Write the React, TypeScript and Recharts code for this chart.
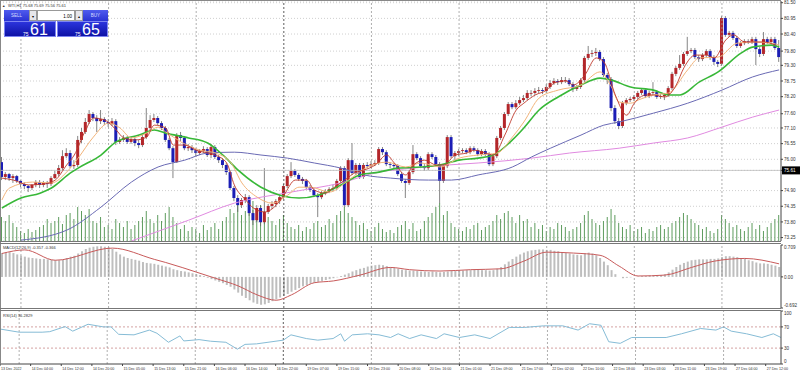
import React from "react";
import { ComposedChart, Bar, Line, XAxis, YAxis, CartesianGrid, ReferenceLine } from "recharts";

const FONT = "'Liberation Sans', Arial, sans-serif";

// time scale: one label every 8 hourly bars
const timeLabels = [
  "13 Dec 2022", "14 Dec 04:00", "14 Dec 12:00", "14 Dec 20:00", "15 Dec 05:00", "15 Dec 13:00",
  "15 Dec 21:00", "16 Dec 06:00", "16 Dec 14:00", "16 Dec 22:00", "19 Dec 07:00", "19 Dec 15:00",
  "19 Dec 23:00", "20 Dec 08:00", "20 Dec 16:00", "21 Dec 01:00", "21 Dec 09:00", "21 Dec 17:00",
  "22 Dec 02:00", "22 Dec 10:00", "22 Dec 18:00", "23 Dec 03:00", "23 Dec 11:00", "23 Dec 19:00",
  "27 Dec 04:00", "27 Dec 12:00",
];
const priceTicks = [81.5, 80.95, 80.4, 79.8, 79.3, 78.75, 78.2, 77.6, 77.1, 76.55, 76.0, 75.61, 74.9, 74.35, 73.8, 73.25];
const bidPrice = 75.61;
const daySeparators = [5, 28, 51, 74, 97, 120, 143, 166, 189];
const weekSeparator = 74;

const opens = [
  75.90,75.38,75.48,75.34,75.41,75.24,75.13,75.06,74.99,75.10, 75.20,75.10,75.17,75.13,75.34,75.48,75.69,76.11,76.22,75.76,
  75.80,76.68,76.96,77.31,77.59,77.45,77.34,77.41,77.31,77.24, 77.34,76.61,76.68,76.75,76.61,76.71,76.57,76.50,76.78,77.10,
  77.38,77.45,77.27,77.10,76.68,76.39,75.90,76.85,76.75,76.39, 76.43,76.32,76.22,76.29,76.36,76.15,76.43,76.08,75.97,75.80,
  75.55,74.99,74.64,74.39,74.57,74.67,74.11,73.86,74.29,73.79, 74.15,74.36,74.43,74.53,74.67,75.06,75.41,75.59,75.45,75.31,
  75.24,75.02,74.92,74.74,74.67,74.81,74.88,74.95,74.99,75.24, 75.69,74.39,75.97,75.52,75.80,75.38,75.80,75.76,75.83,75.87,
  76.36,76.25,75.83,75.80,75.76,75.48,75.24,75.17,75.55,76.18, 76.04,75.76,75.69,76.18,76.08,75.83,75.24,75.76,76.78,76.11,
  76.22,76.29,76.32,76.25,76.39,76.32,76.18,76.29,76.18,75.83, 76.11,76.75,77.10,77.59,77.94,77.83,77.97,78.08,78.15,78.33,
  78.33,78.40,78.43,78.40,78.54,78.68,78.75,78.71,78.78,78.78, 78.64,78.47,78.54,78.78,79.56,79.70,79.73,79.77,79.52,78.96,
  78.82,77.80,77.34,77.17,77.97,78.08,78.12,78.19,78.33,78.43, 78.22,78.33,78.36,78.19,78.22,78.26,78.50,79.00,79.21,79.35,
  79.70,79.80,79.84,79.59,79.52,79.66,79.80,79.59,79.42,79.35, 80.96,80.37,80.44,80.26,79.98,80.08,80.15,80.12,80.22,79.87,
  79.70,80.22,80.12,80.22,79.91,
];
const closes = [
  75.38,75.48,75.34,75.41,75.24,75.13,75.06,74.99,75.10,75.20, 75.10,75.17,75.13,75.34,75.48,75.69,76.11,76.22,75.76,75.80,
  76.68,76.96,77.31,77.59,77.45,77.34,77.41,77.31,77.24,77.34, 76.61,76.68,76.75,76.61,76.71,76.57,76.50,76.78,77.10,77.38,
  77.45,77.27,77.10,76.68,76.39,75.90,76.85,76.75,76.39,76.43, 76.32,76.22,76.29,76.36,76.15,76.43,76.08,75.97,75.80,75.55,
  74.99,74.64,74.39,74.57,74.67,74.11,73.86,74.29,73.79,74.15, 74.36,74.43,74.53,74.67,75.06,75.41,75.59,75.45,75.31,75.24,
  75.02,74.92,74.74,74.67,74.81,74.88,74.95,74.99,75.24,75.69, 74.39,75.97,75.52,75.80,75.38,75.80,75.76,75.83,75.87,76.36,
  76.25,75.83,75.80,75.76,75.48,75.24,75.17,75.55,76.18,76.04, 75.76,75.69,76.18,76.08,75.83,75.24,75.76,76.78,76.11,76.22,
  76.29,76.32,76.25,76.39,76.32,76.18,76.29,76.18,75.83,76.11, 76.75,77.10,77.59,77.94,77.83,77.97,78.08,78.15,78.33,78.33,
  78.40,78.43,78.40,78.54,78.68,78.75,78.71,78.78,78.78,78.64, 78.47,78.54,78.78,79.56,79.70,79.73,79.77,79.52,78.96,78.82,
  77.80,77.34,77.17,77.97,78.08,78.12,78.19,78.33,78.43,78.22, 78.33,78.36,78.19,78.22,78.26,78.50,79.00,79.21,79.35,79.70,
  79.80,79.84,79.59,79.52,79.66,79.80,79.59,79.42,79.35,80.96, 80.37,80.44,80.26,79.98,80.08,80.15,80.12,80.22,79.87,79.70,
  80.22,80.12,80.22,79.91,79.59,
];
const highs = [
  76.08,75.55,75.52,75.48,75.45,75.27,75.20,75.10,75.13,75.27, 75.27,75.24,75.24,75.41,75.59,75.80,76.32,76.39,76.32,75.97,
  76.82,77.10,77.45,77.73,77.66,77.55,77.73,77.48,77.41,77.45, 77.41,76.78,76.85,76.82,76.78,76.78,76.68,76.89,77.80,77.55,
  77.59,77.52,77.34,77.17,76.75,76.46,76.92,76.96,76.82,76.54, 76.50,76.39,76.36,76.46,76.43,76.54,76.50,76.15,76.04,75.87,
  75.62,75.06,74.74,74.64,74.78,74.74,74.22,74.39,74.36,75.69, 74.43,74.53,74.60,74.74,75.13,75.48,75.90,75.66,75.52,75.38,
  75.31,75.10,74.99,74.81,74.88,74.95,75.02,75.10,75.31,75.76, 75.76,76.04,76.57,75.87,75.87,75.87,75.90,75.94,75.97,76.43,
  76.43,76.32,75.90,75.87,75.83,75.55,75.31,75.62,76.50,76.25, 76.11,75.83,76.25,76.25,76.15,75.90,75.83,76.85,76.85,76.29,
  76.36,76.39,76.39,76.46,76.46,76.39,76.36,76.36,76.25,76.18, 76.82,77.17,77.66,78.01,78.01,78.08,78.19,78.26,78.43,78.43,
  78.50,78.54,78.50,78.64,78.78,78.85,78.82,78.89,78.89,78.85, 78.71,78.61,78.85,79.63,79.98,79.84,79.91,79.84,79.59,79.03,
  78.89,77.90,77.45,78.05,78.15,78.19,78.26,78.40,78.50,78.50, 78.40,78.71,78.43,78.29,78.33,78.57,79.07,79.28,79.66,79.77,
  80.30,79.91,79.91,79.66,79.73,79.87,79.87,79.66,79.49,81.03, 81.03,80.51,80.51,80.33,80.15,80.22,80.22,80.30,80.30,79.94,
  80.47,80.30,80.30,80.30,80.19,
];
const lows = [
  75.27,75.27,75.24,75.17,75.17,75.02,74.95,74.85,74.92,75.02, 74.99,75.02,74.99,75.06,75.31,75.41,75.62,76.04,75.69,75.66,
  75.73,76.57,76.89,77.24,77.34,76.96,77.24,77.20,77.13,77.17, 76.50,76.54,76.61,76.54,76.54,76.46,76.39,76.43,76.71,77.03,
  77.31,77.20,77.03,76.61,76.32,75.34,75.87,76.64,76.32,76.29, 76.22,76.11,76.15,76.22,76.08,76.04,76.01,75.87,75.69,75.45,
  74.92,74.53,74.15,74.29,74.46,74.01,73.69,73.79,73.65,73.72, 74.08,74.25,74.32,74.43,74.60,74.99,75.34,75.38,75.24,75.13,
  74.95,74.85,74.67,73.97,74.60,74.74,74.81,74.88,74.92,75.17, 74.32,74.32,75.45,75.45,75.31,75.31,75.69,75.69,75.76,75.80,
  76.15,75.76,75.69,75.66,75.41,75.17,74.64,75.10,75.48,75.97, 75.69,75.59,75.62,76.01,75.76,74.46,75.17,75.69,76.04,75.97,
  76.11,76.22,76.18,76.18,76.25,76.11,76.11,76.11,75.76,75.76, 76.04,76.68,77.03,77.52,77.76,77.76,77.90,78.01,78.08,78.22,
  78.26,78.33,78.29,78.33,78.47,78.61,78.61,78.64,78.68,78.57, 78.36,78.40,78.47,78.71,79.49,79.59,79.63,79.45,78.89,78.64,
  77.69,77.24,77.06,77.10,77.90,78.01,78.05,78.12,78.26,78.15, 78.15,78.26,78.12,78.12,78.08,78.19,78.43,78.92,79.14,79.28,
  79.63,79.73,79.52,79.42,79.45,79.59,79.49,79.31,79.24,79.28, 80.30,80.30,80.19,79.91,79.91,80.01,80.05,80.05,79.31,79.59,
  79.63,80.05,80.05,79.84,79.42,
];
const volumes = [
  2400,2000,2600,1800,1400,1000, 800,1200,900,1100,1400, 1600,2200,1800,2000,2400,1700,2600,
  2800,2200,3400,3000,2600,3200,2000,1800,2400, 1400,1600,1200,2200,1800,1400,2000,1200,
  1600,2000,2400,3000,2200,1800,2600,2000,2800,3400,2400, 1800,1200,1600,1000,1400,1200,800,1600,1100,1400,1800,1200,2000,
  2400,3200,2800,3800,2600,3000,3400,4000,2800,3600,3000,2400, 2000,1600,2200,2600,1800,1400,1200,1600,1000,1400,1200,1800,2000,1400,
  1600,2200,1800,2600,3000,3400,2800,2400,2000,1600,1800, 1200,1000,1400,1800,1200,900,1100,800,1400,1600,2000,1200,1800,1000,1200,
  2000,2400,2800,3400,3800,2600,3000,1800,1400,1200, 1000,1400,1200,1600,1800,1100,1400,1600,2000,2600,2200,2800,3000,2400,1800,
  2600,2000,2200,1400,1800,1200,1600,1000,1400,1200,1800,1600,1400,1000,1200, 1400,1800,2600,3000,2200,1800,1600,2000,2400,3200,2600,1800,
  1400,1200,1600,1000,1200,1400,800,1200,1000,1400,1600,1200,1400, 1800,2000,2400,2800,2600,2200,1800,1600,1200,1400,1000,800,1200,
  2600,2200,1800,1400,1600,1200,1000,1400,1800,1200,1600,1000,1400,1800,2200,2600,
];
const macdHist = [
  0.53,0.54,0.55,0.53,0.50,0.47, 0.45,0.43,0.42,0.41,0.40,0.40,0.39, 0.38,0.37,0.37,0.38,0.42,
  0.45,0.47,0.52,0.57,0.62,0.65, 0.67,0.68,0.68,0.67,0.66,0.62, 0.56,0.50,0.45,0.42,0.40,0.38,0.36,
  0.33,0.31,0.30,0.29,0.27,0.25,0.23,0.21, 0.17,0.15,0.13,0.12,0.10,0.08,0.06,0.04,
  0.02,-0.02,-0.05,-0.08,-0.11,-0.14,-0.18,-0.22, -0.28,-0.35,-0.42,-0.47,-0.52,-0.57,-0.60,-0.62,-0.61,
  -0.58,-0.54,-0.50,-0.46,-0.42,-0.38, -0.33,-0.29,-0.25,-0.21,-0.18, -0.15,-0.13,-0.11,-0.09,-0.07,
  -0.05,-0.03,-0.01,0.02,0.05,0.08, 0.12,0.15,0.18,0.20,0.23, 0.25,0.26,0.27,0.26,0.24, 0.22,0.20,0.18,0.16,0.15,0.14,
  0.14,0.13,0.12,0.12,0.11,0.12,0.11,0.10,0.11,0.12,0.13,0.13,0.14, 0.14,0.15,0.15,0.16,0.16,0.15,0.15,0.14,0.15,0.18,0.22,0.28,
  0.34,0.40,0.45,0.50,0.54,0.57,0.59, 0.60,0.61,0.61,0.60,0.60,0.58,0.57,0.55, 0.53,0.52,0.50,0.49,0.48,0.52,0.54,
  0.52,0.48,0.42,0.34,0.26,0.15, 0.06,0.00,-0.03,-0.02,-0.01,0.00, 0.01,0.02,0.02,0.03,0.03,0.03,0.04,0.06,
  0.10,0.16,0.22,0.27,0.31, 0.34,0.37,0.38,0.39,0.39, 0.39,0.40,0.40,0.41,0.44,0.46, 0.46,0.45,0.44,0.42,0.40,
  0.37,0.35,0.32,0.30,0.30,0.29,0.27,0.25,0.22,
];
// sampled [bar, value] readings; the library joins them
const macdSignal = [
  [0,0.52],[6,0.60],[14,0.37],[29,0.64],[40,0.39],[43,0.32],[52,0.08],[56,-0.03],[62,-0.20],[67,-0.40],[72,-0.52],
  [76,-0.40],[82,-0.13],[87,-0.09],[94,0.04],[102,0.21],[107,0.16],[115,0.13],[123,0.16],[131,0.18],[137,0.35],
  [143,0.55],[150,0.53],[157,0.48],[162,0.24],[167,0.02],[174,0.04],[181,0.21],[187,0.35],[195,0.41],[204,0.29],
];
const rsiPoints = [
  [0,66],[5,60],[11,60],[13,61],[17,70.6],[19,62],[23,75],[27,70],[29,70],[31,56],[35,55],[39,64],[41,58],[44,41],
  [47,53],[48,43.5],[52,46],[55,43],[59,41],[62,28],[64,37],[67,38],[70,41],[74,45],[76,55],[80,48],[83,45],[87,48],
  [89,57],[90,43],[92,55],[96,57],[99,55],[102,50],[104,57],[107,48],[110,55],[114,48],[116,57],[120,50],[124,55],
  [128,48],[133,69],[137,69],[142,72],[147,72],[151,64],[154,76],[157,73],[159,42],[162,39],[165,50],[169,50],
  [174,50],[178,57],[183,67],[187,64],[189,70],[191,62],[195,57],[199,50],[202,57],[204,50],
];
const maFast = [
  [0,75.34],[3,75.27],[7,75.10],[11,75.13],[14,75.27],[17,75.80],[19,76.15],[22,77.03],[24,77.45],[27,77.38],[30,77.03],
  [32,76.75],[35,76.68],[38,76.78],[40,77.20],[43,77.10],[45,76.50],[48,76.50],[51,76.32],[53,76.25],[56,76.15],[59,75.87],
  [61,75.10],[64,74.57],[66,74.29],[69,74.15],[72,74.39],[74,74.74],[77,75.27],[80,75.27],[82,74.92],[85,74.81],[87,74.99],
  [90,75.27],[93,75.55],[95,75.62],[98,75.80],[101,76.15],[103,75.87],[106,75.45],[108,75.80],[111,75.97],[114,75.80],
  [116,75.80],[119,76.15],[122,76.22],[124,76.32],[127,76.22],[129,76.15],[132,76.85],[135,77.73],[137,77.97],[140,78.26],
  [143,78.43],[145,78.68],[148,78.75],[150,78.61],[153,78.96],[156,79.56],[158,79.42],[161,78.26],[164,77.55],[166,77.97],
  [169,78.26],[171,78.26],[174,78.19],[177,78.61],[179,79.21],[182,79.66],[185,79.66],[187,79.56],[190,80.19],[192,80.37],
  [195,80.12],[198,80.12],[200,80.12],[203,80.01],
];
const maMid = [
  [0,74.57],[2,74.99],[8,75.20],[13,75.17],[17,75.55],[20,76.04],[24,76.78],[28,77.27],[31,77.10],[34,76.75],[38,76.92],
  [41,77.13],[43,76.96],[47,76.61],[52,76.32],[56,76.22],[60,75.90],[63,75.17],[67,74.67],[71,74.46],[75,74.74],[78,75.02],
  [81,75.02],[86,74.85],[91,75.27],[96,75.73],[101,75.90],[106,75.73],[110,75.87],[115,75.73],[120,76.04],[125,76.15],
  [130,76.22],[134,76.78],[137,77.31],[141,78.15],[146,78.43],[152,78.61],[157,79.07],[160,78.54],[162,78.01],[165,77.97],
  [167,78.08],[171,78.26],[175,78.33],[180,79.14],[183,79.56],[188,79.59],[193,80.08],[197,80.12],[202,80.08],[204,80.01],
];
const maGreen = [
  [0,74.29],[5,74.64],[10,74.81],[13,74.99],[18,75.52],[20,75.69],[26,76.15],[30,76.61],[36,76.85],[40,77.03],[43,76.92],
  [49,76.75],[54,76.57],[58,76.15],[62,75.62],[68,75.02],[73,74.74],[78,74.64],[83,74.74],[89,75.10],[94,75.45],[99,75.55],
  [104,75.69],[110,75.73],[115,75.80],[120,75.97],[125,76.04],[129,76.15],[134,76.68],[137,77.10],[141,77.73],[146,78.19],
  [152,78.61],[157,78.85],[160,78.78],[165,78.54],[171,78.43],[175,78.26],[178,78.26],[183,78.71],[188,79.07],[194,79.73],
  [197,79.94],[202,80.01],[204,79.94],
];
const maBlue = [
  [5,73.16],[17,73.51],[26,74.32],[34,75.20],[41,75.73],[48,75.97],[54,76.22],[61,76.25],[68,76.15],[75,76.04],[82,75.87],
  [89,75.69],[95,75.45],[102,75.34],[112,75.27],[118,75.27],[125,75.45],[134,75.73],[139,76.08],[144,76.39],[152,76.85],
  [158,77.20],[162,77.31],[171,77.62],[180,77.97],[189,78.43],[197,78.89],[204,79.14],
];
const maMagenta = [
  [34,73.13],[49,73.86],[61,74.46],[76,74.85],[89,75.17],[99,75.55],[108,75.69],[117,75.80],[125,75.87],[139,76.04],
  [149,76.22],[162,76.39],[171,76.57],[180,76.75],[189,77.13],[197,77.48],[204,77.73],
];

const rows: any[] = opens.map((o, i) => ({
  i, o, c: closes[i], h: highs[i], l: lows[i], hl: [lows[i], highs[i]], vol: volumes[i], hist: macdHist[i],
}));
const attach = (pts: number[][], key: string) => pts.forEach(([b, v]) => { rows[b][key] = v; });
attach(macdSignal, "sig");
attach(rsiPoints, "rsi");
attach(maFast, "maFast");
attach(maMid, "maMid");
attach(maGreen, "maGreen");
attach(maBlue, "maBlue");
attach(maMagenta, "maMagenta");

const Candle = (props: any) => {
  const { x, y, width, height, payload } = props;
  const top = Math.min(y, y + height);
  const hgt = Math.abs(height);
  const { o, c, h, l } = payload;
  const span = h - l || 1;
  const yOf = (v: number) => top + ((h - v) / span) * hgt;
  const cx = x + width / 2;
  const bTop = yOf(Math.max(o, c));
  const bBot = yOf(Math.min(o, c));
  const up = c >= o;
  return (
    <g>
      <line x1={cx} x2={cx} y1={top} y2={top + hgt} stroke="#666" strokeWidth={0.8} />
      <rect x={cx - 1.5} y={bTop} width={3} height={Math.max(bBot - bTop, 0.8)} fill={up ? "#b3262a" : "#1b1db5"} />
    </g>
  );
};

const PriceTick = (props: any) => {
  const { x, y, payload } = props;
  if (payload.value === bidPrice) {
    return (
      <g>
        <rect x={x - 3} y={y - 4} width={20} height={8} fill="#000" />
        <text x={x - 1} y={y} dy={1.7} fontSize={4.6} fill="#fff" fontFamily={FONT}>{payload.value.toFixed(2)}</text>
      </g>
    );
  }
  return <text x={x - 1} y={y} dy={1.7} fontSize={4.6} fill="#333" fontFamily={FONT}>{payload.value.toFixed(2)}</text>;
};

const macdLabels: Record<string, string> = { "0.709": "0.709", "0": "0.00", "-0.692": "-0.692" };
const MacdTick = (props: any) => {
  const { x, y, payload } = props;
  const dy = payload.value > 0 ? 3.5 : payload.value < 0 ? -1 : 1.7;
  return <text x={x - 1} y={y} dy={dy} fontSize={4.6} fill="#333" fontFamily={FONT}>{macdLabels[String(payload.value)]}</text>;
};

const RsiTick = (props: any) => {
  const { x, y, payload } = props;
  const dy = payload.value === 100 ? 3.5 : payload.value === 0 ? -1 : 1.7;
  return <text x={x - 1} y={y} dy={dy} fontSize={4.6} fill="#333" fontFamily={FONT}>{payload.value}</text>;
};

const DateTick = (props: any) => {
  const { x, y, payload } = props;
  return <text x={x + 1} y={y} dy={1.5} fontSize={3.6} fill="#333" fontFamily={FONT}>{timeLabels[payload.value / 8]}</text>;
};

const separators = (xId?: string, yId?: string) =>
  daySeparators.map((d) => (
    <ReferenceLine key={d} x={d} xAxisId={xId} yAxisId={yId} stroke={d === weekSeparator ? "#333" : "#9a9a9a"} strokeDasharray="2 2" strokeWidth={0.8} />
  ));

const MainChart = () => (
  <ComposedChart width={800} height={242} data={rows} margin={{ top: 1, right: 0, bottom: 1, left: 0 }}>
    <CartesianGrid xAxisId="c" yAxisId="p" vertical={false} stroke="#cfcfcf" strokeDasharray="1 2" />
    <XAxis xAxisId="c" dataKey="i" hide />
    <XAxis xAxisId="v" dataKey="i" hide />
    <YAxis yAxisId="p" orientation="right" width={19} domain={[73.13, 81.56]} ticks={priceTicks} interval={0}
      tick={<PriceTick />} tickSize={2} tickMargin={2} stroke="#444" allowDataOverflow />
    <YAxis yAxisId="v" hide domain={[0, 24000]} allowDataOverflow />
    {separators("c", "p")}
    <ReferenceLine xAxisId="c" yAxisId="p" y={bidPrice} stroke="#bdbdbd" strokeWidth={0.8} />
    <Bar xAxisId="v" yAxisId="v" dataKey="vol" barSize={1} fill="#5e9c5e" isAnimationActive={false} />
    <Bar xAxisId="c" yAxisId="p" dataKey="hl" barSize={3} shape={Candle} isAnimationActive={false} />
    <Line xAxisId="c" yAxisId="p" dataKey="maMagenta" type="monotone" stroke="#e08ae0" strokeWidth={1} dot={false} connectNulls isAnimationActive={false} />
    <Line xAxisId="c" yAxisId="p" dataKey="maBlue" type="monotone" stroke="#6a6ab4" strokeWidth={1} dot={false} connectNulls isAnimationActive={false} />
    <Line xAxisId="c" yAxisId="p" dataKey="maGreen" type="monotone" stroke="#38b838" strokeWidth={1.6} dot={false} connectNulls isAnimationActive={false} />
    <Line xAxisId="c" yAxisId="p" dataKey="maMid" type="monotone" stroke="#f2b47a" strokeWidth={1} dot={false} connectNulls isAnimationActive={false} />
    <Line xAxisId="c" yAxisId="p" dataKey="maFast" type="monotone" stroke="#c0392b" strokeWidth={0.9} dot={false} connectNulls isAnimationActive={false} />
  </ComposedChart>
);

const MacdChart = () => (
  <ComposedChart width={800} height={66} data={rows} margin={{ top: 2, right: 0, bottom: 1, left: 0 }}>
    <XAxis dataKey="i" hide />
    <YAxis orientation="right" width={19} domain={[-0.692, 0.709]} ticks={[-0.692, 0, 0.709]} interval={0}
      tick={<MacdTick />} tickSize={2} tickMargin={2} stroke="#444" allowDataOverflow />
    {separators()}
    <Bar dataKey="hist" barSize={2} fill="#bebebe" isAnimationActive={false} />
    <Line dataKey="sig" type="monotone" stroke="#c85a5a" strokeWidth={1} dot={false} connectNulls isAnimationActive={false} />
  </ComposedChart>
);

const RsiChart = () => (
  <ComposedChart width={800} height={70} data={rows} margin={{ top: 6, right: 0, bottom: 0, left: 0 }}>
    <XAxis dataKey="i" ticks={timeLabels.map((_, k) => k * 8)} interval={0} height={11} tick={<DateTick />}
      tickSize={2} tickMargin={2} stroke="#444" />
    <YAxis orientation="right" width={19} domain={[0, 100]} ticks={[0, 30, 70, 100]} interval={0}
      tick={<RsiTick />} tickSize={2} tickMargin={2} stroke="#444" />
    {separators()}
    <ReferenceLine y={70} stroke="#c98a8a" strokeDasharray="2 2" strokeWidth={0.8} />
    <ReferenceLine y={30} stroke="#c98a8a" strokeDasharray="2 2" strokeWidth={0.8} />
    <Line dataKey="rsi" type="linear" stroke="#86bcd6" strokeWidth={1} dot={false} connectNulls isAnimationActive={false} />
  </ComposedChart>
);

const Frame = () => (
  <svg width={800} height={375} style={{ position: "absolute", left: 0, top: 0, pointerEvents: "none" }}>
    <line x1={0} x2={781} y1={0.5} y2={0.5} stroke="#888" />
    <line x1={0.5} x2={0.5} y1={0} y2={364} stroke="#888" />
    <line x1={0} x2={781} y1={241.5} y2={241.5} stroke="#777" />
    <line x1={0} x2={781} y1={243.5} y2={243.5} stroke="#777" />
    <line x1={0} x2={781} y1={308.5} y2={308.5} stroke="#777" />
    <line x1={0} x2={781} y1={310.5} y2={310.5} stroke="#777" />
    <text x={3} y={249} fontSize={4} fill="#333" fontFamily={FONT}>MACD(12,26,9) -0.357 -0.366</text>
    <text x={3} y={316.5} fontSize={4} fill="#333" fontFamily={FONT}>RSI(14) 36.2829</text>
    <text x={2} y={7} fontSize={3.5} fill="#333" fontFamily={FONT}>▲</text>
    <text x={8} y={7} fontSize={4} fill="#333" fontFamily={FONT}>WTI,H1  75.68 75.69 75.56 75.61</text>
  </svg>
);

const box = (left: number, top: number, w: number, h: number, bg: string, extra: any = {}) => ({
  position: "absolute" as const, left, top, width: w, height: h, background: bg, boxSizing: "border-box" as const,
  fontFamily: FONT, ...extra,
});

const TradePanel = () => {
  const btn = "linear-gradient(#4f5bee, #2a34d4)";
  const price = "linear-gradient(#2b34dc, #0e12a6)";
  return (
    <>
      <div style={box(4, 10, 25, 11, btn, { color: "#d8ddff", fontSize: 4.5, lineHeight: "11px", textAlign: "center" })}>SELL</div>
      <div style={box(29, 10, 8, 11, "#e6e6ea", { fontSize: 4, lineHeight: "11px", textAlign: "center", border: "0.5px solid #999" })}>▾</div>
      <div style={box(37, 10, 38, 11, "#fff", { fontSize: 4.5, lineHeight: "11px", textAlign: "right", paddingRight: 2, border: "0.5px solid #999" })}>1.00</div>
      <div style={box(75, 10, 8, 11, "#e6e6ea", { fontSize: 4, lineHeight: "11px", textAlign: "center", border: "0.5px solid #999" })}>▴</div>
      <div style={box(83, 10, 25, 11, btn, { color: "#d8ddff", fontSize: 4.5, lineHeight: "11px", textAlign: "center" })}>BUY</div>
      <div style={box(4, 21, 52, 16, price, { border: "0.5px solid #7c84f2" })}>
        <span style={{ position: "absolute", left: 18, top: 9, fontSize: 5, color: "#fff" }}>75</span>
        <span style={{ position: "absolute", left: 25, top: -1, fontSize: 16, color: "#fff" }}>61</span>
      </div>
      <div style={box(57, 21, 51, 16, price, { border: "0.5px solid #7c84f2" })}>
        <span style={{ position: "absolute", left: 17, top: 9, fontSize: 5, color: "#fff" }}>75</span>
        <span style={{ position: "absolute", left: 24, top: -1, fontSize: 16, color: "#fff" }}>65</span>
      </div>
    </>
  );
};

export default function App() {
  return (
    <div style={{ position: "absolute", left: 0, top: 0, width: 800, height: 375, background: "#fff", overflow: "hidden" }}>
      <div style={{ position: "absolute", left: 0, top: 0 }}><MainChart /></div>
      <div style={{ position: "absolute", left: 0, top: 243 }}><MacdChart /></div>
      <div style={{ position: "absolute", left: 0, top: 305 }}><RsiChart /></div>
      <Frame />
      <TradePanel />
    </div>
  );
}
